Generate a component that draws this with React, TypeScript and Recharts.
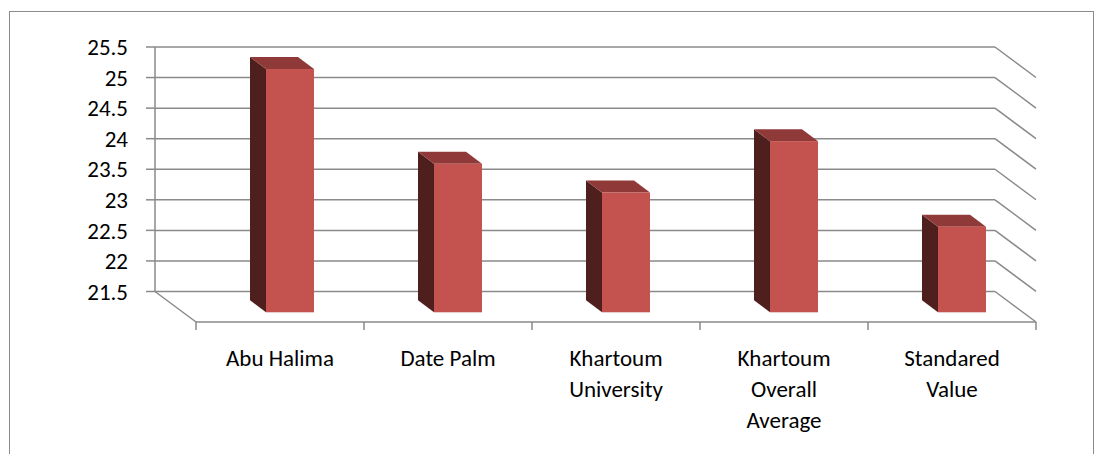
import { BarChart, Bar, XAxis, YAxis, CartesianGrid } from 'recharts'

const categories = ['Abu Halima', 'Date Palm', 'Khartoum University', 'Khartoum Overall Average', 'Standared Value']
const values = [25.48, 23.93, 23.46, 24.3, 22.9]
const yTicks = [21.5, 22, 22.5, 23, 23.5, 24, 24.5, 25, 25.5]

const data = categories.map((name, i) => ({ name, value: values[i] }))

// back wall geometry
const PLOT_LEFT = 155
const PLOT_RIGHT = 995
const PLOT_TOP = 47
const PLOT_BOTTOM = 291.5
const BAND = (PLOT_RIGHT - PLOT_LEFT) / categories.length
const DEPTH_X = 41
const DEPTH_Y = 30.5

// bar offsets (bar sits forward of the back wall)
const BAR_DX = 51
const BAR_DY = 20.8
const BAR_DEPTH_X = 16
const BAR_DEPTH_Y = 12

const GRID = '#8a8a8a'
const FONT = 'Carlito, Calibri, Lato, sans-serif'
const FONT_SIZE = 23

// greedy word wrap by character count
const wrap = (label: string, max = 12) => {
  const lines: string[] = []
  let cur = ''
  label.split(' ').forEach((w) => {
    const next = cur ? `${cur} ${w}` : w
    if (next.length > max && cur) {
      lines.push(cur)
      cur = w
    } else {
      cur = next
    }
  })
  if (cur) lines.push(cur)
  return lines
}

const Bar3D = (props: any) => {
  const { x, y, width, height } = props
  const fx = x + BAR_DX
  const fy = y + BAR_DY
  const fb = y + height + BAR_DY
  const w = width
  return (
    <g>
      <polygon
        points={`${fx},${fy} ${fx - BAR_DEPTH_X},${fy - BAR_DEPTH_Y} ${fx - BAR_DEPTH_X},${fb - BAR_DEPTH_Y} ${fx},${fb}`}
        fill="#4f1f1e"
      />
      <polygon
        points={`${fx},${fy} ${fx + w},${fy} ${fx + w - BAR_DEPTH_X},${fy - BAR_DEPTH_Y} ${fx - BAR_DEPTH_X},${fy - BAR_DEPTH_Y}`}
        fill="#8f3a38"
      />
      <rect x={fx} y={fy} width={w} height={fb - fy} fill="#c4534f" />
    </g>
  )
}

const GridLine = (props: any) => {
  const { x1, y1, x2, y2 } = props
  return (
    <g key={`g-${y1}`}>
      <line x1={x1} y1={y1} x2={x2} y2={y2} stroke={GRID} strokeWidth={1.5} />
      <line x1={x2} y1={y1} x2={x2 + DEPTH_X} y2={y1 + DEPTH_Y} stroke={GRID} strokeWidth={1.5} />
    </g>
  )
}

const FloorTick = (props: any) => {
  const { x, payload, index } = props
  const left = x - BAND / 2 + DEPTH_X
  const right = x + BAND / 2 + DEPTH_X
  const fy = PLOT_BOTTOM + DEPTH_Y
  const lines = wrap(String(payload.value))
  return (
    <g>
      {index === 0 && (
        <line x1={x - BAND / 2} y1={PLOT_BOTTOM} x2={left} y2={fy} stroke={GRID} strokeWidth={1.5} />
      )}
      <line x1={left} y1={fy} x2={right} y2={fy} stroke={GRID} strokeWidth={1.5} />
      <line x1={left} y1={fy} x2={left} y2={fy + 8} stroke={GRID} strokeWidth={1.5} />
      {index === categories.length - 1 && (
        <line x1={right} y1={fy} x2={right} y2={fy + 8} stroke={GRID} strokeWidth={1.5} />
      )}
      <text x={x + DEPTH_X} y={fy + 44} textAnchor="middle" fill="#000" fontSize={FONT_SIZE} fontFamily={FONT}>
        {lines.map((l, i) => (
          <tspan key={i} x={x + DEPTH_X} dy={i === 0 ? 0 : 31}>
            {l}
          </tspan>
        ))}
      </text>
    </g>
  )
}

export default function App() {
  return (
    <div style={{ position: 'absolute', left: 0, top: 0, width: 1105, height: 454, background: '#fff', overflow: 'hidden' }}>
      <div
        style={{
          position: 'absolute',
          left: 9,
          top: 11,
          width: 1083,
          height: 500,
          border: '1px solid #8c8c8c',
        }}
      />
      <div style={{ position: 'absolute', left: 0, top: 0 }}>
        <BarChart
          width={1105}
          height={454}
          data={data}
          margin={{ top: PLOT_TOP, right: 1105 - PLOT_RIGHT, left: PLOT_LEFT - 60, bottom: 454 - PLOT_BOTTOM - 30 }}
          barSize={48}
        >
          <CartesianGrid vertical={false} horizontal={GridLine} />
          <XAxis
            dataKey="name"
            height={30}
            axisLine={false}
            tickLine={false}
            interval={0}
            tick={<FloorTick />}
          />
          <YAxis
            width={60}
            domain={[21.5, 25.5]}
            ticks={yTicks}
            interval={0}
            axisLine={{ stroke: GRID, strokeWidth: 1.5 }}
            tickLine={{ stroke: GRID, strokeWidth: 1.5 }}
            tickSize={9}
            tickMargin={18}
            tick={{ fontSize: FONT_SIZE, fill: '#000', fontFamily: FONT }}
          />
          <Bar dataKey="value" shape={<Bar3D />} isAnimationActive={false} />
        </BarChart>
      </div>
    </div>
  )
}
